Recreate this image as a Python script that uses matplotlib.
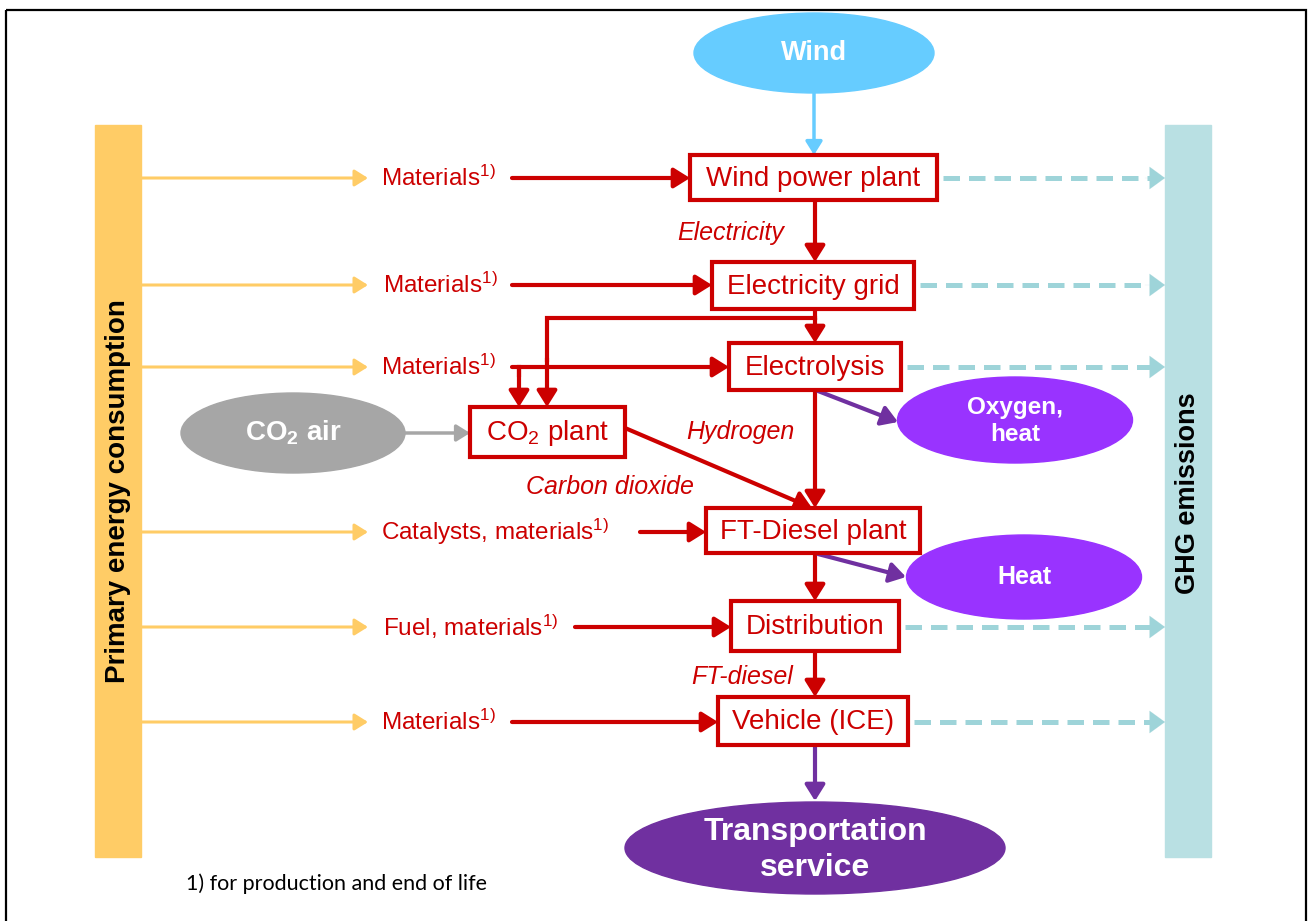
import matplotlib.pyplot as plt
from matplotlib.patches import Rectangle, Ellipse, FancyArrowPatch

plt.rcParams['font.family'] = ['Liberation Sans', 'DejaVu Sans']
plt.rcParams['mathtext.fontset'] = 'custom'
plt.rcParams['mathtext.rm'] = 'Liberation Sans'
plt.rcParams['mathtext.it'] = 'Liberation Sans:italic'
plt.rcParams['mathtext.bf'] = 'Liberation Sans:bold'

# process chain (top to bottom)
process_names = ['Wind power plant', 'Electricity grid', 'Electrolysis',
                 'FT-Diesel plant', 'Distribution', 'Vehicle (ICE)']
# inputs from primary energy for each process
input_labels = ['Materials$^{1)}$', 'Materials$^{1)}$', 'Materials$^{1)}$',
                'Catalysts, materials$^{1)}$', 'Fuel, materials$^{1)}$',
                'Materials$^{1)}$']
# which processes report GHG emissions
has_emissions = [True, True, True, False, True, True]
flow_labels = ['Electricity', 'Hydrogen', 'Carbon dioxide', 'FT-diesel']
source_label = 'Wind'
co2_source = 'CO$_\\mathbf{2}$ air'
co2_plant = 'CO$_2$ plant'
byproducts = ['Oxygen,\nheat', 'Heat']
service_label = 'Transportation\nservice'
left_bar = 'Primary energy consumption'
right_bar = 'GHG emissions'
footnote = '1) for production and end of life'

RED = '#CC0000'
YELLOW = '#FFCC66'
TEAL = '#B9E0E3'
TEAL_LINE = '#9ED4D9'
PURPLE = '#9933FF'
DARK_PURPLE = '#7030A0'
SKY = '#66CCFF'
GREY = '#A6A6A6'

# layout in pixel coordinates
boxes = [(690, 155, 937, 200), (712, 262, 914, 309), (729, 343, 901, 390),
         (706, 508, 920, 553), (731, 601, 899, 651), (718, 697, 908, 745)]
rows_y = [178, 285, 367, 532, 627, 722]
text_x = [381, 383, 381, 381, 383, 381]
red_start = [512, 512, 512, 640, 575, 512]
cx = 815

fig = plt.figure(figsize=(13.1, 9.21), dpi=100)
ax = fig.add_axes([0, 0, 1, 1])
ax.set_xlim(0, 1310)
ax.set_ylim(921, 0)
ax.axis('off')


def arrow(p0, p1, color, lw=3, hl=0.48, hw=0.3, z=3):
    a = FancyArrowPatch(p0, p1, arrowstyle=f'-|>,head_length={hl},head_width={hw}',
                        mutation_scale=20, color=color, lw=lw,
                        shrinkA=0, shrinkB=0, zorder=z)
    ax.add_patch(a)


# outer frame
ax.add_patch(Rectangle((6, 10), 1300, 930, fill=False, ec='black', lw=1.6, zorder=0))

# side bars
ax.add_patch(Rectangle((95, 125), 46, 732, color=YELLOW, zorder=1))
ax.add_patch(Rectangle((1165, 125), 46, 732, color=TEAL, zorder=1))
ax.text(118, 491, left_bar, rotation=90, ha='center', va='center',
        fontsize=20, fontweight='bold')
ax.text(1188, 493, right_bar, rotation=90, ha='center', va='center',
        fontsize=19.5, fontweight='bold')

# wind source
ax.add_patch(Ellipse((814, 53), 240, 80, color=SKY, zorder=2))
ax.text(814, 53, source_label, ha='center', va='center', color='white',
        fontsize=19.5, fontweight='bold')
arrow((814, 93), (814, 155), SKY, lw=2.5, hl=0.4, hw=0.25)

# process boxes
for name, (x0, y0, x1, y1) in zip(process_names, boxes):
    ax.add_patch(Rectangle((x0, y0), x1 - x0, y1 - y0, fc='white', ec=RED,
                           lw=3, zorder=4))
    ax.text((x0 + x1) / 2, (y0 + y1) / 2 + 1, name, ha='center', va='center',
            color=RED, fontsize=20, zorder=5)

# inputs and emissions
for i, y in enumerate(rows_y):
    arrow((141, y), (368, y), YELLOW, lw=2.2, hl=0.4, hw=0.25)
    ax.text(text_x[i], y, input_labels[i], ha='left', va='center',
            color=RED, fontsize=17.5)
    arrow((red_start[i], y), (boxes[i][0], y), RED)
    if has_emissions[i]:
        x0 = boxes[i][2] + 6
        ax.plot([x0, 1150], [y, y], color=TEAL_LINE, lw=3.6,
                dashes=(3.3, 1.8), solid_capstyle='butt')
        arrow((1145, y), (1165, y), TEAL_LINE, lw=0.1, hl=0.55, hw=0.4)

# main chain arrows
arrow((cx, 200), (cx, 262), RED)
ax.plot([cx, cx], [309, 318], color=RED, lw=3)
arrow((cx, 318), (cx, 343), RED)
ax.plot([cx, 547, 547], [318, 318, 360], color=RED, lw=3,
        solid_joinstyle='miter')
arrow((547, 358), (547, 407), RED)
ax.plot([519, 519], [367, 375], color=RED, lw=3)
arrow((519, 367), (519, 407), RED)
arrow((cx, 390), (cx, 508), RED)
arrow((cx, 553), (cx, 601), RED)
arrow((cx, 651), (cx, 697), RED)

# CO2 capture
ax.add_patch(Ellipse((293, 433), 224, 80, color=GREY, zorder=2))
ax.text(293, 433, co2_source, ha='center', va='center', color='white',
        fontsize=20, fontweight='bold')
arrow((405, 433), (470, 433), GREY, lw=2.5, hl=0.4, hw=0.25)
ax.add_patch(Rectangle((470, 407), 155, 50, fc='white', ec=RED, lw=3, zorder=4))
ax.text(547.5, 433, co2_plant, ha='center', va='center', color=RED,
        fontsize=20, zorder=5)
arrow((625, 428), (812, 508), RED)

# flow labels
ax.text(731, 233, flow_labels[0], ha='center', va='center', color=RED,
        fontsize=18, style='italic')
ax.text(740, 432, flow_labels[1], ha='center', va='center', color=RED,
        fontsize=18, style='italic')
ax.text(610, 487, flow_labels[2], ha='center', va='center', color=RED,
        fontsize=18, style='italic')
ax.text(742, 677, flow_labels[3], ha='center', va='center', color=RED,
        fontsize=18, style='italic')

# by-products
ax.add_patch(Ellipse((1015, 420), 235, 86, color=PURPLE, zorder=2))
ax.text(1015, 421, byproducts[0], ha='center', va='center', color='white',
        fontsize=17.5, fontweight='bold', linespacing=1.2)
arrow((818, 391), (898, 422), DARK_PURPLE)
ax.add_patch(Ellipse((1024, 577), 235, 84, color=PURPLE, zorder=2))
ax.text(1024, 577, byproducts[1], ha='center', va='center', color='white',
        fontsize=18, fontweight='bold')
arrow((818, 554), (906, 577), DARK_PURPLE)

# final service
arrow((cx, 745), (cx, 801), DARK_PURPLE)
ax.add_patch(Ellipse((815, 848), 380, 92, color=DARK_PURPLE, zorder=2))
ax.text(815, 850, service_label, ha='center', va='center', color='white',
        fontsize=23, fontweight='bold', linespacing=1.3)

ax.text(186, 884, footnote, ha='left', va='center', fontsize=15.5,
        family=['Lato', 'DejaVu Sans'])

fig.savefig('out.png', dpi=100)
